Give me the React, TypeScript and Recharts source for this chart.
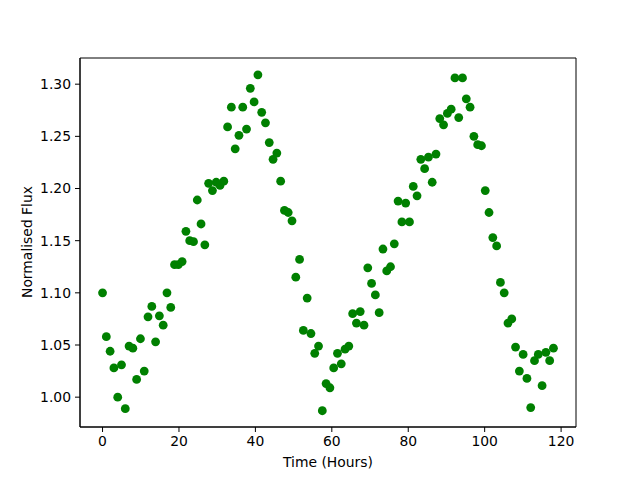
import React from 'react';
import { ScatterChart, Scatter, XAxis, YAxis, ReferenceArea } from 'recharts';

const hours = [
  0, 0.99, 1.98, 2.97, 3.97, 4.96, 5.95, 6.94, 7.93, 8.92,
  9.92, 10.91, 11.9, 12.89, 13.88, 14.87, 15.87, 16.86, 17.85, 18.84,
  19.83, 20.82, 21.82, 22.81, 23.8, 24.79, 25.78, 26.77, 27.76, 28.76,
  29.75, 30.74, 31.73, 32.72, 33.71, 34.71, 35.7, 36.69, 37.68, 38.67,
  39.66, 40.66, 41.65, 42.64, 43.63, 44.62, 45.61, 46.61, 47.6, 48.59,
  49.58, 50.57, 51.56, 52.55, 53.55, 54.54, 55.53, 56.52, 57.51, 58.5,
  59.5, 60.49, 61.48, 62.47, 63.46, 64.45, 65.45, 66.44, 67.43, 68.42,
  69.41, 70.4, 71.39, 72.39, 73.38, 74.37, 75.36, 76.35, 77.34, 78.34,
  79.33, 80.32, 81.31, 82.3, 83.29, 84.29, 85.28, 86.27, 87.26, 88.25,
  89.24, 90.24, 91.23, 92.22, 93.21, 94.2, 95.19, 96.18, 97.18, 98.17,
  99.16, 100.15, 101.14, 102.13, 103.13, 104.12, 105.11, 106.1, 107.09, 108.08,
  109.08, 110.07, 111.06, 112.05, 113.04, 114.03, 115.03, 116.02, 117.01, 118.0,
];

const flux = [
  1.100, 1.058, 1.044, 1.028, 1.000, 1.031, 0.989, 1.049, 1.047, 1.017,
  1.056, 1.025, 1.077, 1.087, 1.053, 1.078, 1.069, 1.100, 1.086, 1.127,
  1.127, 1.130, 1.159, 1.150, 1.149, 1.189, 1.166, 1.146, 1.205, 1.198,
  1.206, 1.203, 1.207, 1.259, 1.278, 1.238, 1.251, 1.278, 1.257, 1.296,
  1.283, 1.309, 1.273, 1.263, 1.244, 1.228, 1.234, 1.207, 1.179, 1.177,
  1.169, 1.115, 1.132, 1.064, 1.095, 1.061, 1.042, 1.049, 0.987, 1.013,
  1.009, 1.028, 1.042, 1.032, 1.046, 1.049, 1.080, 1.071, 1.082, 1.069,
  1.124, 1.109, 1.098, 1.081, 1.142, 1.121, 1.125, 1.147, 1.188, 1.168,
  1.186, 1.168, 1.202, 1.193, 1.228, 1.219, 1.230, 1.206, 1.233, 1.267,
  1.261, 1.272, 1.276, 1.306, 1.268, 1.306, 1.286, 1.278, 1.250, 1.242,
  1.241, 1.198, 1.177, 1.153, 1.145, 1.110, 1.100, 1.071, 1.075, 1.048,
  1.025, 1.041, 1.018, 0.990, 1.035, 1.041, 1.011, 1.043, 1.035, 1.047,
];

const xTicks = [0, 20, 40, 60, 80, 100, 120];
const yTicks = [1.0, 1.05, 1.1, 1.15, 1.2, 1.25, 1.3];
const xDomain: [number, number] = [-5.9, 123.9];
const yDomain: [number, number] = [0.9714, 1.3251];

const data = hours.map((h, i) => ({ x: h, y: flux[i] }));

const FONT = 'DejaVu Sans, sans-serif';
const tickStyle = { fontFamily: FONT, fontSize: 13.9, fill: '#000' };

const Dot = (props: any) => {
  const { cx, cy } = props;
  if (cx == null || cy == null) return null;
  return <circle cx={cx} cy={cy} r={4.4} fill="#008000" />;
};

export default function App() {
  return (
    <div style={{ position: 'absolute', left: 0, top: 0, width: 640, height: 480, background: '#fff' }}>
      <ScatterChart
        width={640}
        height={480}
        margin={{ top: 58, right: 64, bottom: 23, left: 20 }}
      >
        <XAxis
          type="number"
          dataKey="x"
          domain={xDomain}
          allowDataOverflow
          ticks={xTicks}
          interval={0}
          height={30}
          tickSize={5}
          tickMargin={4}
          tick={tickStyle}
          axisLine={{ stroke: '#000', strokeWidth: 1 }}
          tickLine={{ stroke: '#000', strokeWidth: 1 }}
        />
        <YAxis
          type="number"
          dataKey="y"
          domain={yDomain}
          allowDataOverflow
          ticks={yTicks}
          interval={0}
          width={60}
          tickSize={5}
          tickMargin={4}
          tick={tickStyle}
          tickFormatter={(v: number) => v.toFixed(2)}
          axisLine={{ stroke: '#000', strokeWidth: 1 }}
          tickLine={{ stroke: '#000', strokeWidth: 1 }}
        />
        <ReferenceArea
          x1={xDomain[0]}
          x2={xDomain[1]}
          y1={yDomain[0]}
          y2={yDomain[1]}
          fill="none"
          fillOpacity={0}
          stroke="#000"
          strokeWidth={1}
          ifOverflow="visible"
        />
        <Scatter
          data={data}
          fill="#008000"
          shape={<Dot />}
          isAnimationActive={false}
        />
      </ScatterChart>
      <div
        style={{
          position: 'absolute',
          left: 228,
          width: 200,
          top: 454,
          textAlign: 'center',
          fontFamily: FONT,
          fontSize: 13.9,
          color: '#000',
          lineHeight: '16px',
        }}
      >
        Time (Hours)
      </div>
      <div
        style={{
          position: 'absolute',
          left: 27 - 100,
          width: 200,
          top: 242 - 8,
          textAlign: 'center',
          fontFamily: FONT,
          fontSize: 13.9,
          color: '#000',
          lineHeight: '16px',
          transform: 'rotate(-90deg)',
          transformOrigin: '100px 8px',
        }}
      >
        Normalised Flux
      </div>
    </div>
  );
}
